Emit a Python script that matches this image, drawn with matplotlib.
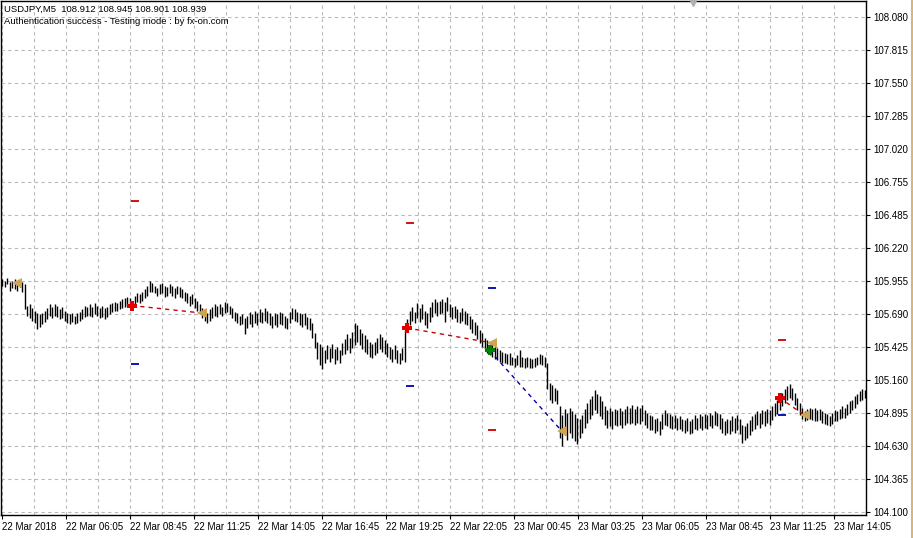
import numpy as np
import matplotlib.pyplot as plt
from matplotlib.lines import Line2D

# USDJPY M5 bars (high / low)
highs = [
    105.97, 105.96, 105.98, 105.95, 105.96, 105.97, 105.94, 105.96, 105.95, 105.93,
    105.76, 105.77, 105.74, 105.72, 105.70, 105.69, 105.70, 105.72, 105.74, 105.77,
    105.75, 105.77, 105.76, 105.73, 105.75, 105.72, 105.70, 105.69, 105.70, 105.68,
    105.70, 105.71, 105.73, 105.76, 105.75, 105.77, 105.75, 105.78, 105.76, 105.74,
    105.76, 105.74, 105.75, 105.77, 105.78, 105.79, 105.78, 105.80, 105.81, 105.82,
    105.83, 105.82, 105.80, 105.84, 105.86, 105.85, 105.87, 105.89, 105.92, 105.96,
    105.94, 105.92, 105.90, 105.93, 105.94, 105.92, 105.91, 105.93, 105.92, 105.90,
    105.92, 105.91, 105.89, 105.87, 105.86, 105.84, 105.85, 105.82, 105.80, 105.77,
    105.74, 105.72, 105.70, 105.73, 105.75, 105.77, 105.76, 105.77, 105.75, 105.79,
    105.78, 105.76, 105.74, 105.71, 105.70, 105.68, 105.69, 105.66, 105.68, 105.71,
    105.69, 105.72, 105.70, 105.73, 105.71, 105.74, 105.72, 105.70, 105.68, 105.70,
    105.69, 105.71, 105.70, 105.68, 105.66, 105.71, 105.74, 105.73, 105.71, 105.70,
    105.69, 105.70, 105.67, 105.66, 105.62, 105.54, 105.47, 105.45, 105.43, 105.40,
    105.44, 105.42, 105.45, 105.41, 105.43, 105.40, 105.46, 105.49, 105.53, 105.50,
    105.55, 105.62, 105.60, 105.57, 105.54, 105.52, 105.49, 105.47, 105.45, 105.47,
    105.50, 105.53, 105.51, 105.48, 105.46, 105.43, 105.41, 105.44, 105.40, 105.38,
    105.42, 105.56, 105.65, 105.72, 105.75, 105.71, 105.78, 105.74, 105.77, 105.72,
    105.70, 105.75, 105.79, 105.81, 105.79, 105.80, 105.81, 105.79, 105.83, 105.77,
    105.75, 105.76, 105.73, 105.71, 105.74, 105.72, 105.70, 105.68, 105.65, 105.63,
    105.60, 105.56, 105.54, 105.50, 105.48, 105.45, 105.46, 105.43, 105.42, 105.40,
    105.39, 105.38, 105.37, 105.38, 105.35, 105.34, 105.36, 105.40, 105.35, 105.34,
    105.35, 105.34, 105.33, 105.34, 105.35, 105.37, 105.36, 105.35, 105.30, 105.14,
    105.12, 105.10, 105.08, 104.95, 104.88, 104.93, 104.90, 104.94, 104.91, 104.89,
    104.86, 104.85, 104.88, 104.93, 104.98, 105.01, 105.03, 105.08, 105.05, 105.03,
    104.99, 104.95, 104.92, 104.94, 104.91, 104.93, 104.92, 104.94, 104.91, 104.93,
    104.95, 104.94, 104.96, 104.93, 104.95, 104.94, 104.96, 104.92, 104.90, 104.88,
    104.87, 104.85, 104.86, 104.83, 104.89, 104.92, 104.90, 104.89, 104.87, 104.88,
    104.86, 104.87, 104.85, 104.84, 104.86, 104.83, 104.85, 104.88, 104.86, 104.89,
    104.87, 104.89, 104.88, 104.90, 104.88, 104.91, 104.90, 104.89, 104.86, 104.83,
    104.85, 104.84, 104.87, 104.86, 104.88, 104.85, 104.80, 104.79, 104.82, 104.84,
    104.87, 104.89, 104.91, 104.90, 104.92, 104.91, 104.93, 104.92, 104.95, 104.98,
    105.00, 105.03, 105.06, 105.09, 105.11, 105.13, 105.10, 105.06, 105.02, 104.98,
    104.94, 104.91, 104.93, 104.94, 104.93, 104.94, 104.92, 104.93, 104.91, 104.90,
    104.89, 104.87, 104.90, 104.92, 104.91, 104.93, 104.95, 104.94, 104.97, 104.99,
    105.00, 105.03, 105.05, 105.07, 105.09, 105.08,
]
lows = [
    105.92, 105.91, 105.93, 105.88, 105.90, 105.89, 105.88, 105.91, 105.87, 105.73,
    105.68, 105.66, 105.64, 105.62, 105.57, 105.59, 105.61, 105.63, 105.65, 105.68,
    105.66, 105.68, 105.67, 105.65, 105.66, 105.64, 105.62, 105.61, 105.63, 105.61,
    105.62, 105.64, 105.65, 105.67, 105.68, 105.68, 105.67, 105.69, 105.68, 105.66,
    105.67, 105.65, 105.67, 105.69, 105.71, 105.72, 105.72, 105.73, 105.74, 105.75,
    105.76, 105.75, 105.74, 105.77, 105.79, 105.78, 105.80, 105.82, 105.84, 105.87,
    105.87, 105.86, 105.84, 105.85, 105.86, 105.83, 105.84, 105.86, 105.84, 105.82,
    105.85, 105.83, 105.82, 105.80, 105.78, 105.76, 105.77, 105.74, 105.72, 105.69,
    105.66, 105.64, 105.62, 105.64, 105.66, 105.68, 105.67, 105.69, 105.68, 105.70,
    105.71, 105.69, 105.66, 105.64, 105.62, 105.60, 105.61, 105.53, 105.58, 105.61,
    105.59, 105.62, 105.60, 105.63, 105.62, 105.64, 105.62, 105.60, 105.58, 105.60,
    105.59, 105.61, 105.60, 105.58, 105.57, 105.62, 105.65, 105.64, 105.63, 105.60,
    105.59, 105.60, 105.57, 105.56, 105.50, 105.42, 105.33, 105.28, 105.25, 105.30,
    105.33, 105.31, 105.34, 105.29, 105.32, 105.30, 105.36, 105.37, 105.40, 105.38,
    105.42, 105.44, 105.47, 105.44, 105.41, 105.39, 105.37, 105.35, 105.34, 105.36,
    105.38, 105.41, 105.39, 105.37, 105.35, 105.33, 105.31, 105.33, 105.30, 105.29,
    105.32, 105.31, 105.55, 105.60, 105.64, 105.62, 105.66, 105.63, 105.65, 105.60,
    105.58, 105.63, 105.67, 105.70, 105.68, 105.69, 105.70, 105.63, 105.72, 105.67,
    105.65, 105.66, 105.63, 105.62, 105.64, 105.61, 105.60, 105.57, 105.54, 105.52,
    105.49, 105.46, 105.43, 105.41, 105.38, 105.36, 105.35, 105.33, 105.32, 105.31,
    105.30, 105.30, 105.29, 105.28, 105.28, 105.27, 105.28, 105.27, 105.27, 105.26,
    105.27, 105.26, 105.26, 105.27, 105.28, 105.29, 105.28, 105.27, 105.09, 105.00,
    104.98, 104.99, 104.97, 104.70, 104.63, 104.72, 104.68, 104.74, 104.70, 104.67,
    104.65, 104.70, 104.74, 104.78, 104.82, 104.85, 104.88, 104.92, 104.90, 104.87,
    104.85, 104.80, 104.78, 104.79, 104.77, 104.80, 104.79, 104.80, 104.78, 104.80,
    104.82, 104.81, 104.82, 104.80, 104.82, 104.81, 104.83, 104.80, 104.78, 104.76,
    104.76, 104.74, 104.75, 104.72, 104.77, 104.80, 104.79, 104.78, 104.77, 104.78,
    104.76, 104.77, 104.75, 104.74, 104.75, 104.73, 104.74, 104.77, 104.76, 104.78,
    104.76, 104.78, 104.77, 104.79, 104.78, 104.80, 104.79, 104.77, 104.74, 104.72,
    104.74, 104.73, 104.75, 104.74, 104.76, 104.73, 104.66, 104.68, 104.70, 104.72,
    104.75, 104.77, 104.80, 104.78, 104.81, 104.79, 104.82, 104.80, 104.84, 104.87,
    104.89, 104.92, 104.95, 104.98, 105.00, 105.02, 105.00, 104.96, 104.92, 104.88,
    104.85, 104.83, 104.84, 104.85, 104.84, 104.83, 104.83, 104.84, 104.82, 104.81,
    104.80, 104.79, 104.81, 104.83, 104.83, 104.85, 104.86, 104.86, 104.88, 104.90,
    104.92, 104.94, 104.97, 104.99, 105.00, 105.02,
]

# trade arrows
sell_idx = [52, 162, 311]
sell_price = [105.76, 105.58, 105.02]
buy_idx = [195]
buy_price = [105.40]
close_idx = [6, 80, 196, 224, 321]
close_price = [105.94, 105.70, 105.46, 104.75, 104.88]

# entry -> exit lines
red_from = [(52, 105.76), (162, 105.58), (311, 105.02)]
red_to = [(80, 105.70), (196, 105.46), (321, 104.88)]
blue_from = [(195, 105.40)]
blue_to = [(224, 104.75)]

# stop / target level marks
red_lvl_idx = [53, 163, 196, 312]
red_lvl = [106.60, 106.42, 104.76, 105.48]
blue_lvl_idx = [53, 163, 196, 312]
blue_lvl = [105.29, 105.11, 105.90, 104.88]

price_ticks = [108.080, 107.815, 107.550, 107.285, 107.020, 106.755, 106.485, 106.220,
               105.955, 105.690, 105.425, 105.160, 104.895, 104.630, 104.365, 104.100]
time_labels = ['22 Mar 2018', '22 Mar 06:05', '22 Mar 08:45', '22 Mar 11:25',
               '22 Mar 14:05', '22 Mar 16:45', '22 Mar 19:25', '22 Mar 22:05',
               '23 Mar 00:45', '23 Mar 03:25', '23 Mar 06:05', '23 Mar 08:45',
               '23 Mar 11:25', '23 Mar 14:05']

plt.rcParams['font.family'] = ['Liberation Sans', 'DejaVu Sans']

fig = plt.figure(figsize=(9.13, 5.38), dpi=100)
ax = fig.add_axes([0.5 / 913, 23 / 538, 865.5 / 913, 514.5 / 538])

idx = np.arange(len(highs))
ax.vlines(idx, lows, highs, color='black', lw=1.0, zorder=3)

# trade lines
for (x0, y0), (x1, y1) in zip(red_from, red_to):
    ax.plot([x0, x1], [y0, y1], color='#cc0000', lw=1.0, ls=(0, (3, 3)), zorder=4)
for (x0, y0), (x1, y1) in zip(blue_from, blue_to):
    ax.plot([x0, x1], [y0, y1], color='#0000b0', lw=1.0, ls=(0, (3, 3)), zorder=4)

ax.hlines(red_lvl, np.array(red_lvl_idx) - 1.6, np.array(red_lvl_idx) + 1.6,
          color='#cc0000', lw=1.3, zorder=4)
ax.hlines(blue_lvl, np.array(blue_lvl_idx) - 1.6, np.array(blue_lvl_idx) + 1.6,
          color='#0000b0', lw=1.3, zorder=4)

ax.plot(sell_idx, sell_price, 'P', color='#e00000', ms=7, mew=0, zorder=5)
ax.plot(buy_idx, buy_price, 'P', color='#008000', ms=7, mew=0, zorder=5)
ax.plot(close_idx, close_price, '<', color='#d0a550', ms=7, mew=0, zorder=5)

ax.set_xlim(-0.6, 345.6)
ax.set_ylim(104.078, 108.210)

# grid: price levels and every 32 px on time axis
ax.set_yticks(price_ticks)
ax.set_yticklabels(['%.3f' % p for p in price_ticks])
ax.set_xticks(np.arange(len(time_labels)) * 25.6)
ax.set_xticklabels(time_labels)
for lab in ax.get_xticklabels():
    lab.set_horizontalalignment('left')
ax.set_xticks(np.arange(0, 346, 12.8), minor=True)
ax.grid(True, which='both', axis='x', color='#b8b8b8', ls=(0, (3, 3)), lw=0.8)
ax.grid(True, axis='y', color='#b8b8b8', ls=(0, (3, 3)), lw=0.8)
ax.set_axisbelow(True)

ax.yaxis.tick_right()
ax.tick_params(axis='both', which='major', direction='out', length=3, width=0.8,
               labelsize=7, colors='black', pad=2)
ax.tick_params(axis='x', which='minor', length=0)
for s in ax.spines.values():
    s.set_color('black')
    s.set_linewidth(1.0)

ax.plot([693 / 866], [0.996], 'v', color='#b0b0b0', ms=5, transform=ax.transAxes,
        clip_on=False, zorder=6)

fig.text(4 / 913, 1 - 9 / 538, 'USDJPY,M5  108.912 108.945 108.901 108.939',
         fontsize=6.8, va='center', ha='left')
fig.text(4 / 913, 1 - 22 / 538, 'Authentication success - Testing mode : by fx-on.com',
         fontsize=6.8, va='center', ha='left')

fig.add_artist(Line2D([911.5 / 913, 911.5 / 913], [0, 1], color='#d8b67a', lw=1.5))

fig.savefig('out.png', dpi=100, facecolor='white')
